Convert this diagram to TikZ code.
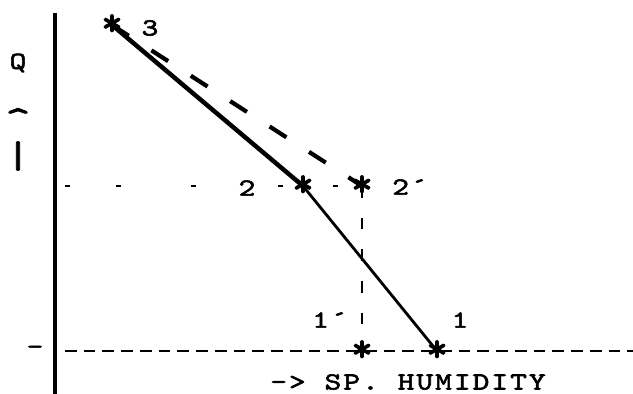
\documentclass[tikz,border=0pt]{standalone}
\usepackage{fontspec}
\newfontfamily\typer{lmmono10-regular.otf}[LetterSpace=8,FakeStretch=1.3,FakeBold=2.2]
\newfontfamily\typerstar{lmmono10-regular.otf}[FakeBold=2.8]
\tikzset{
  lbl/.style={font=\typer\fontsize{21}{25}\selectfont,inner sep=0pt},
  starmark/.style={font=\typerstar\fontsize{34}{34}\selectfont,inner sep=0pt},
  axisline/.style={line width=2.6pt},
  fatline/.style={line width=3.8pt},
  thinline/.style={line width=2.4pt},
  basedash/.style={line width=2.5pt,dash pattern=on 10pt off 6pt},
  risedash/.style={line width=2.5pt,dash pattern=on 10pt off 17pt},
  slopedash/.style={line width=3.6pt,dash pattern=on 17pt off 23pt},
  leveldash/.style={line width=1.8pt,dash pattern=on 4.3pt off 39.3pt on 4.3pt off 59.8pt on 4.3pt off 70pt on 4.3pt off 42.7pt on 4.3pt off 85pt}
}
\begin{document}
\begin{tikzpicture}[x=0.03cm,y=-0.03cm]
\useasboundingbox (0,0) rectangle (633,394);
\coordinate (ytop) at (55,13);
\coordinate (ybot) at (55,394);
\coordinate (xleft) at (65,351);
\coordinate (xright) at (633,351);
\coordinate (lvl) at (65,186);
\coordinate (p3) at (112,25);
\coordinate (p2) at (303,186);
\coordinate (q2) at (362,186);
\coordinate (p1) at (437,351);
\coordinate (q1) at (362,351);
\draw[axisline] (ytop) -- (ybot);
\draw[basedash] (xleft) -- (xright);
\draw[leveldash] (lvl) -- (q2);
\draw[fatline] (p3) -- (p2);
\draw[thinline] (p2) -- (p1);
\draw[slopedash] (p3) -- (q2);
\draw[risedash] (q2) -- (q1);
\node[starmark] (s3) at (p3) {*};
\node[starmark] (s2) at (p2) {*};
\node[starmark] (t2) at (q2) {*};
\node[starmark] (s1) at (p1) {*};
\node[starmark] (t1) at (q1) {*};
\node[lbl] (n3) at (150,28) {3};
\node[lbl] (n2) at (247,188) {2};
\node[lbl] (m2) at (410,187) {2\textasciiacute};
\node[lbl] (m1) at (330,320) {1\textasciiacute};
\node[lbl] (n1) at (460,320) {1};
\node[lbl] (qlbl) at (18,63) {Q};
\node[lbl,font=\typer\fontsize{32}{32}\selectfont] (hat) at (18,120) {\^{}};
\node[lbl,font=\typer\fontsize{32}{32}\selectfont] (bar) at (18,156) {|};
\node[lbl] (tick) at (35,350) {-};
\node[lbl] (xlbl) at (408,382) {-> SP. HUMIDITY};
\end{tikzpicture}
\end{document}
